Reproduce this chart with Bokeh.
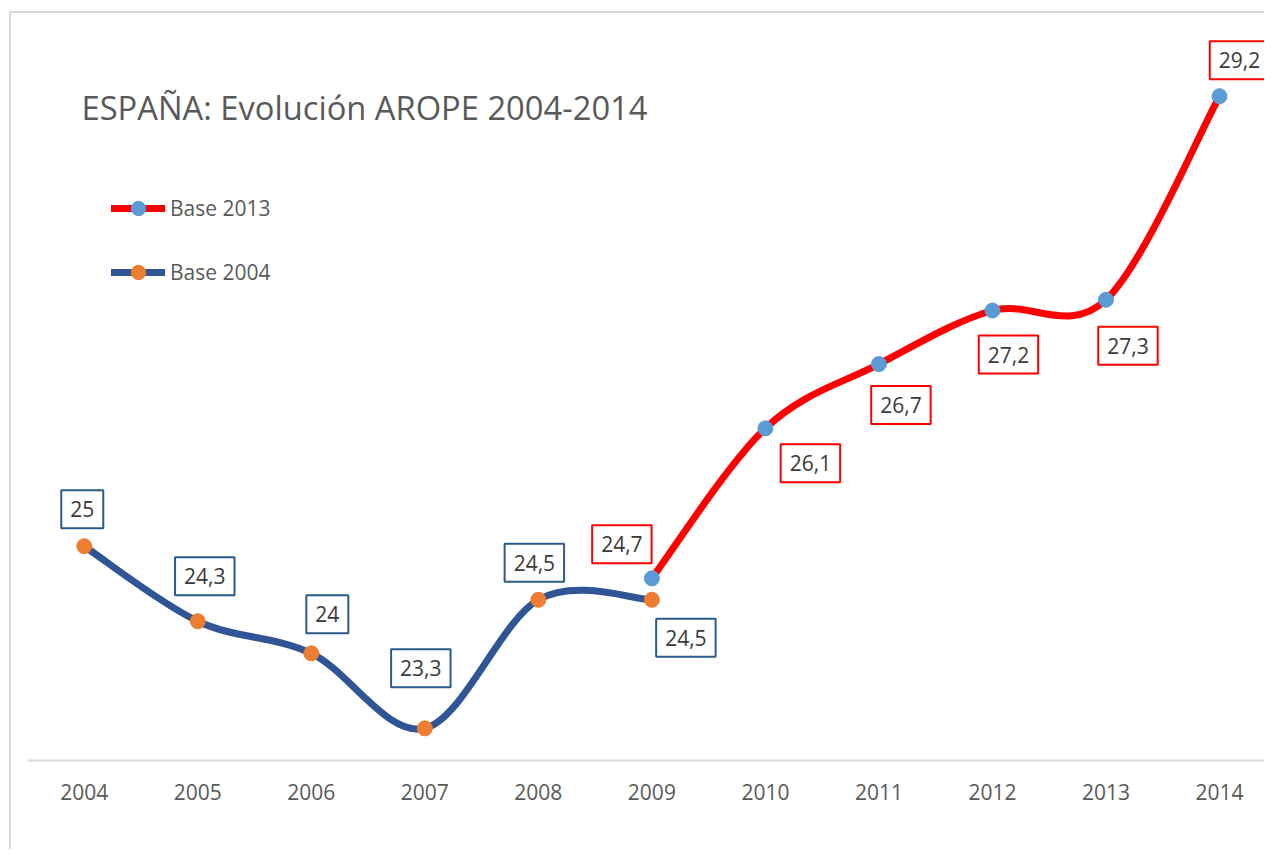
from bokeh.plotting import figure
from bokeh.models import Range1d, FixedTicker, Label, Legend, LegendItem
from bokeh.embed import file_html
from bokeh.resources import INLINE

# ---- data ----
years_2004 = [2004, 2005, 2006, 2007, 2008, 2009]
base_2004 = [25.0, 24.3, 24.0, 23.3, 24.5, 24.5]
years_2013 = [2009, 2010, 2011, 2012, 2013, 2014]
base_2013 = [24.7, 26.1, 26.7, 27.2, 27.3, 29.2]
tick_years = list(range(2004, 2015))
title_text = "ESPAÑA: Evolución AROPE 2004-2014"
series_names = ["Base 2013", "Base 2004"]

# label offsets (screen px, dx right, dy down) -- layout only
off_2004 = [(-2, -37), (7, -45), (16, -39), (-4, -60), (-4, -37), (34, 38)]
off_2013 = [(-30, -34), (45, 35), (22, 41), (16, 44), (22, 46), (20, -36)]

BLUE_LINE = "#2f5597"
RED_LINE = "#ff0000"
ORANGE = "#ed7d31"
LBLUE = "#5b9bd5"
LABEL_BORDER_2004 = "#2b5b8a"
FONT = "Open Sans"

p = figure(width=1255, height=838, output_backend="svg", toolbar_location=None,
           x_range=Range1d(2003.5, 2014.414), y_range=Range1d(23.0, 29.972),
           y_axis_location=None, min_border_left=16, min_border_right=0,
           min_border_top=0, min_border_bottom=91)
p.styles = {"margin-left": "9px", "margin-top": "11px",
            "border-left": "2px solid #d9d9d9", "border-top": "2px solid #d9d9d9"}
p.outline_line_color = None
p.grid.visible = False
p.background_fill_color = "white"
p.border_fill_color = "white"

ax = p.xaxis[0]
ax.ticker = FixedTicker(ticks=tick_years)
ax.axis_line_color = "#d9d9d9"
ax.axis_line_width = 2
ax.major_tick_line_color = None
ax.minor_tick_line_color = None
ax.major_label_text_font = FONT
ax.major_label_text_font_size = "21px"
ax.major_label_text_color = "#595959"
ax.major_label_standoff = 17


def bezier_parts(xs, ys):
    n = len(xs)
    x0, y0, x1, y1, cx0, cy0, cx1, cy1 = [], [], [], [], [], [], [], []
    def tangent(i):
        a = max(i - 1, 0)
        b = min(i + 1, n - 1)
        return (xs[b] - xs[a]) / 2.0, (ys[b] - ys[a]) / 2.0
    for i in range(n - 1):
        mx0, my0 = tangent(i)
        mx1, my1 = tangent(i + 1)
        x0.append(xs[i]); y0.append(ys[i])
        x1.append(xs[i + 1]); y1.append(ys[i + 1])
        cx0.append(xs[i] + mx0 / 3.0); cy0.append(ys[i] + my0 / 3.0)
        cx1.append(xs[i + 1] - mx1 / 3.0); cy1.append(ys[i + 1] - my1 / 3.0)
    return dict(x0=x0, y0=y0, x1=x1, y1=y1, cx0=cx0, cy0=cy0, cx1=cx1, cy1=cy1)


b04 = bezier_parts(years_2004, base_2004)
r_l04 = p.bezier(line_color=BLUE_LINE, line_width=7, line_cap="round", **b04)
b13 = bezier_parts(years_2013, base_2013)
r_l13 = p.bezier(line_color=RED_LINE, line_width=7, line_cap="round", **b13)

r_m04 = p.scatter(years_2004, base_2004, size=15, fill_color=ORANGE, line_color=ORANGE)
r_m13 = p.scatter(years_2013, base_2013, size=15, fill_color=LBLUE, line_color=LBLUE)


def fmt(v):
    return f"{v:g}".replace(".", ",")


for xs, ys, offs, bc in [(years_2004, base_2004, off_2004, LABEL_BORDER_2004),
                         (years_2013, base_2013, off_2013, RED_LINE)]:
    for x, y, (dx, dy) in zip(xs, ys, offs):
        p.add_layout(Label(x=x, y=y, x_offset=dx, y_offset=-dy, text=fmt(y),
                           text_align="center", text_baseline="middle",
                           text_font=FONT, text_font_size="21px", text_color="#3a3a3a",
                           border_line_color=bc, border_line_width=2,
                           background_fill_color="white",
                           padding=dict(left=9, right=9, top=11, bottom=11)))

# title inside the chart
p.add_layout(Label(x=54, y=653, x_units="screen", y_units="screen", text=title_text,
                   text_align="left", text_baseline="middle", text_font=FONT,
                   text_font_size="32.7px", text_color="#595959"))

legend = Legend(items=[LegendItem(label=series_names[0], renderers=[r_l13, r_m13], index=0),
                       LegendItem(label=series_names[1], renderers=[r_l04, r_m04], index=0)],
                location=(84, 470), margin=0, padding=0, spacing=28,
                glyph_width=54, glyph_height=36, label_height=36, label_standoff=5,
                label_text_font=FONT, label_text_font_size="21px",
                label_text_color="#595959", border_line_color=None,
                background_fill_alpha=0)
p.add_layout(legend)

open("out.html", "w").write(file_html(p, INLINE))
